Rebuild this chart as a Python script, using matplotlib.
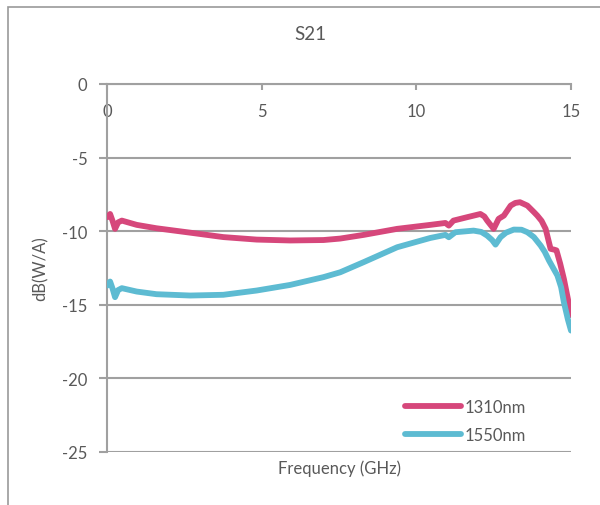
import matplotlib
matplotlib.use("Agg")
import matplotlib.pyplot as plt
from matplotlib.patches import Rectangle

plt.rcParams['font.family'] = ['Lato', 'DejaVu Sans']
plt.rcParams['axes.unicode_minus'] = False

freq_1310 = [0.01, 0.1, 0.18, 0.26, 0.36, 0.48, 0.96, 1.6, 2.69, 3.76, 4.84, 5.92, 7.0, 7.54,
             8.3, 9.38, 10.45, 10.94, 11.05, 11.2, 11.64, 12.07, 12.2, 12.29, 12.5, 12.66,
             12.83, 13.05, 13.2, 13.35, 13.59, 13.8, 13.91, 14.05, 14.18, 14.34, 14.45,
             14.53, 14.65, 14.77, 14.9, 15.0]
s21_1310 = [-9.05, -8.83, -9.3, -9.84, -9.4, -9.28, -9.57, -9.8, -10.1, -10.4, -10.57, -10.63,
            -10.6, -10.5, -10.25, -9.84, -9.57, -9.44, -9.62, -9.28, -9.05, -8.83, -9.0,
            -9.28, -9.84, -9.16, -8.94, -8.26, -8.08, -8.03, -8.26, -8.7, -8.94, -9.3,
            -9.84, -11.2, -11.25, -11.3, -12.2, -13.24, -14.6, -15.7]

freq_1550 = [0.01, 0.1, 0.18, 0.26, 0.36, 0.48, 0.96, 1.6, 2.69, 3.76, 4.84, 5.92, 7.0, 7.54,
             8.3, 9.38, 10.45, 10.94, 11.05, 11.26, 11.85, 12.1, 12.29, 12.45, 12.56, 12.72,
             12.9, 13.15, 13.4, 13.59, 13.8, 14.02, 14.15, 14.29, 14.45, 14.56, 14.68, 14.77,
             14.9, 15.0]
s21_1550 = [-13.69, -13.42, -13.9, -14.48, -14.0, -13.87, -14.1, -14.28, -14.37, -14.32,
            -14.03, -13.65, -13.12, -12.79, -12.1, -11.09, -10.46, -10.25, -10.41, -10.07,
            -9.96, -10.05, -10.3, -10.6, -10.91, -10.41, -10.1, -9.89, -9.9, -10.07, -10.4,
            -10.98, -11.4, -12.0, -12.6, -13.01, -13.8, -14.82, -16.0, -16.75]

labels = ['1310nm', '1550nm']
colors = ['#D6477B', '#5DBBD2']
x_ticks = [0, 5, 10, 15]
y_ticks = [0, -5, -10, -15, -20, -25]

W, H = 600, 506
fig = plt.figure(figsize=(W / 100, H / 100), dpi=100)
ax = fig.add_axes([107 / W, 1 - 453 / H, (571 - 107) / W, (453 - 85) / H])

gray = '#A0A0A0'
text_col = '#595959'
fs = 12

ax.plot(freq_1310, s21_1310, color=colors[0], lw=4.2, solid_capstyle='round',
        solid_joinstyle='round', label=labels[0], zorder=3)
ax.plot(freq_1550, s21_1550, color=colors[1], lw=4.2, solid_capstyle='round',
        solid_joinstyle='round', label=labels[1], zorder=3)

ax.set_xlim(0, 15)
ax.set_ylim(-25, 0)
ax.set_yticks(y_ticks)
ax.set_xticks(x_ticks)

for s in ['right', 'bottom']:
    ax.spines[s].set_visible(False)
for s in ['left', 'top']:
    ax.spines[s].set_color(gray)
    ax.spines[s].set_linewidth(1.5)
ax.yaxis.grid(True, color=gray, lw=1.5)
ax.set_axisbelow(True)

ax.tick_params(axis='y', direction='out', length=6, width=1.5, color=gray,
               labelsize=fs, labelcolor=text_col, pad=8)
ax.tick_params(axis='x', bottom=False, labelbottom=False, top=True, labeltop=True,
               direction='in', length=4, width=1.5, color=gray,
               labelsize=fs, labelcolor=text_col, pad=-14)
for t in ax.xaxis.get_major_ticks():
    t.label2.set_va('top')

ax.set_xlabel('Frequency (GHz)', fontsize=fs, color=text_col)
ax.xaxis.set_label_position('bottom')
ax.xaxis.labelpad = 5
ax.set_ylabel('dB(W/A)', fontsize=fs, color=text_col, labelpad=10)

fig.text(310 / W, 1 - 35 / H, 'S21', fontsize=13.5, color=text_col, ha='center', va='center')

leg = ax.legend(loc='upper left', bbox_to_anchor=(393 / W, 1 - 388 / H),
                bbox_transform=fig.transFigure, frameon=False, fontsize=fs,
                handlelength=3.4, handletextpad=0.2, labelspacing=0.75, borderpad=0.2)
for t in leg.get_texts():
    t.set_color(text_col)

fig.patches.append(Rectangle((8 / W, -0.05), 1.1, 1 - 8 / H + 0.05, transform=fig.transFigure,
                             fill=False, edgecolor='#999999', lw=1.2))

fig.savefig('out.png', dpi=100)
